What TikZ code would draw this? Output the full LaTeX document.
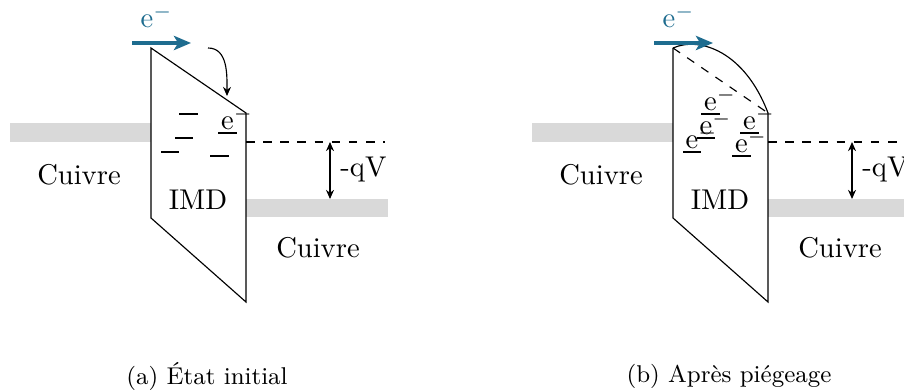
\documentclass[tikz,border=0pt]{standalone}
\usetikzlibrary{arrows.meta}
\definecolor{eblue}{RGB}{30,108,143}
\definecolor{bandgray}{RGB}{217,217,217}
\tikzset{
  band/.style={fill=bandgray, draw=none},
  bluearrow/.style={eblue, line width=1.1pt, -{Stealth[length=6pt,width=5pt,inset=1.5pt]}},
  smallarrow/.style={-{Stealth[length=3.2pt,width=2.8pt]}},
  dblarrow/.style={{Stealth[length=3.2pt,width=2.8pt]}-{Stealth[length=3.2pt,width=2.8pt]}},
  trapline/.style={line width=0.4pt},
  elec/.style={anchor=base, inner sep=0pt, outer sep=0pt},
  lbl/.style={inner sep=1pt},
  capt/.style={font=\fontsize{8.5}{10.2}\selectfont}
}
\newcommand{\elecTxt}{e\rlap{$^{-}$}}
\begin{document}
\begin{tikzpicture}[x=0.35pt,y=-0.35pt]
\useasboundingbox (0,0) rectangle (904,390);
% ================= Panel (a) =================
\begin{scope}
  \fill[band] (10,123) rectangle (151,142);
  \fill[band] (246,199) rectangle (388,217);
  \coordinate (a-tl) at (151,48);
  \coordinate (a-tr) at (246,113);
  \coordinate (a-br) at (246,302);
  \coordinate (a-bl) at (151,218);
  \draw (a-tl) -- (a-tr) -- (a-br) -- (a-bl) -- cycle;
  % traps
  \draw[trapline] (179,114) -- (198,114);
  \draw[trapline] (175,138) -- (193,138);
  \draw[trapline] (161,152) -- (179,152);
  \draw[trapline] (210,156) -- (229,156);
  \draw[trapline] (218,133) -- (237,133);
  \node[elec] (a-e5) at (227.5,129.5) {\elecTxt};
  % levels
  \coordinate (a-d1) at (246,142);
  \coordinate (a-d2) at (385,142);
  \draw[dashed] (a-d1) -- (a-d2);
  \coordinate (a-v1) at (330,142);
  \coordinate (a-v2) at (330,199);
  \draw[dblarrow] (a-v1) -- (a-v2);
  \node[lbl, anchor=west] (a-qv) at (337,170) {-qV};
  \node[lbl] (a-cu1) at (79,175) {Cuivre};
  \node[lbl] (a-cu2) at (318,248) {Cuivre};
  \node[lbl] (a-imd) at (198,200) {IMD};
  % incoming electron
  \coordinate (a-b1) at (132,43);
  \coordinate (a-b2) at (191,43);
  \draw[bluearrow] (a-b1) -- (a-b2);
  \node[elec, text=eblue] (a-eb) at (147,28) {\elecTxt};
  \coordinate (a-c1) at (208,48);
  \coordinate (a-c2) at (227,96);
  \draw[smallarrow] (a-c1) to[out=0,in=90] (a-c2);
  \node[capt] (a-cap) at (207,376) {(a) \'Etat initial};
\end{scope}
% ================= Panel (b) =================
\begin{scope}[shift={(522,0)}]
  \fill[band] (10,123) rectangle (151,142);
  \fill[band] (246,199) rectangle (400,217);
  \coordinate (b-tl) at (151,48);
  \coordinate (b-tr) at (246,113);
  \coordinate (b-br) at (246,302);
  \coordinate (b-bl) at (151,218);
  \draw (b-tr) -- (b-br) -- (b-bl) -- (b-tl);
  \draw[dashed] (b-tl) -- (b-tr);
  \draw (b-tl) .. controls (178,36) and (223,52) .. (b-tr);
  % filled traps
  \draw[trapline] (179,114) -- (198,114);
  \draw[trapline] (175,138) -- (193,138);
  \draw[trapline] (161,152) -- (179,152);
  \draw[trapline] (210,156) -- (229,156);
  \draw[trapline] (218,133) -- (237,133);
  \node[elec] (b-e1) at (188.5,110.5) {\elecTxt};
  \node[elec] (b-e2) at (184,134.5) {\elecTxt};
  \node[elec] (b-e3) at (170,148.5) {\elecTxt};
  \node[elec] (b-e4) at (219.5,152.5) {\elecTxt};
  \node[elec] (b-e5) at (227.5,129.5) {\elecTxt};
  % levels
  \coordinate (b-d1) at (246,142);
  \coordinate (b-d2) at (385,142);
  \draw[dashed] (b-d1) -- (b-d2);
  \coordinate (b-v1) at (330,142);
  \coordinate (b-v2) at (330,199);
  \draw[dblarrow] (b-v1) -- (b-v2);
  \node[lbl, anchor=west] (b-qv) at (337,170) {-qV};
  \node[lbl] (b-cu1) at (79,175) {Cuivre};
  \node[lbl] (b-cu2) at (318,248) {Cuivre};
  \node[lbl] (b-imd) at (198,200) {IMD};
  \coordinate (b-b1) at (132,43);
  \coordinate (b-b2) at (191,43);
  \draw[bluearrow] (b-b1) -- (b-b2);
  \node[elec, text=eblue] (b-eb) at (147,28) {\elecTxt};
  \node[capt] (b-cap) at (207,376) {(b) Apr\`es pi\'egeage};
\end{scope}
\end{tikzpicture}
\end{document}
